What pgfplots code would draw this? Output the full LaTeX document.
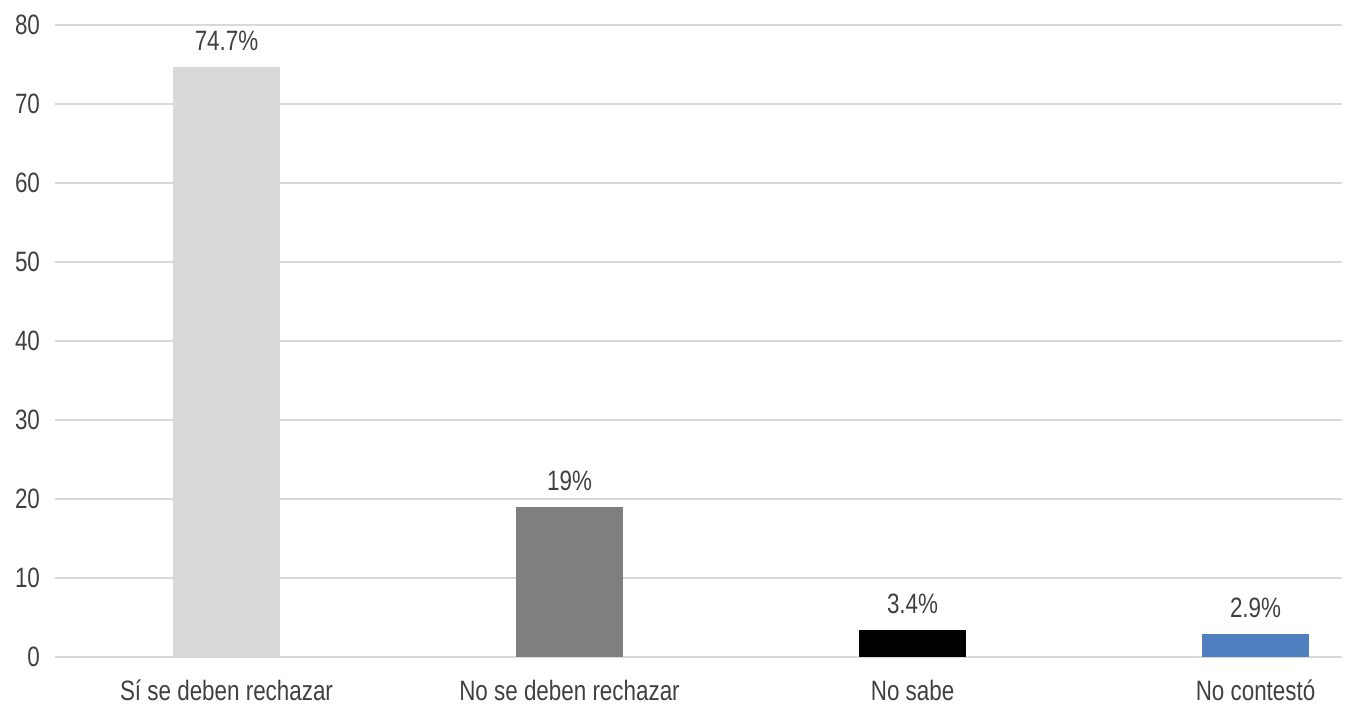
\documentclass[border=0pt]{standalone}
\usepackage{pgfplots}
\pgfplotsset{compat=1.18}
\usepackage{fontspec}
\setmainfont{Liberation Sans}[FakeStretch=0.8]
\definecolor{gridc}{HTML}{D9D9D9}
\definecolor{txt}{HTML}{404040}
\definecolor{c1}{HTML}{D9D9D9}
\definecolor{c2}{HTML}{7F7F7F}
\definecolor{c3}{HTML}{000000}
\definecolor{c4}{HTML}{4F7FBE}
\begin{document}
\begin{tikzpicture}
\useasboundingbox (-27.5pt,-25pt) rectangle (645.5pt,328.5pt);
\begin{axis}[
  at={(0,0)}, anchor=south west,
  scale only axis, width=643.5pt, height=316pt,
  xmin=-0.5, xmax=3.252, ymin=0, ymax=80,
  ytick={0,10,...,80},
  xtick={0,1,2,3},
  xticklabels={Sí se deben rechazar, No se deben rechazar, No sabe, No contestó},
  axis line style={draw=none},
  major tick length=0pt,
  ymajorgrids, grid style={gridc, line width=1pt},
  ybar, bar width=53.5pt, bar shift=0pt,
  /pgf/number format/assume math mode=true,
  tick label style={font=\fontsize{14}{16}\selectfont, text=txt},
  yticklabel style={xshift=-4pt},
  xticklabel style={yshift=-8pt},
  nodes near coords, point meta=explicit symbolic,
  every node near coord/.append style={font=\fontsize{14}{16}\selectfont, text=txt, yshift=4.5pt},
  clip=false,
]
\addplot[fill=c1, draw=none] coordinates {(0,74.7) [74.7\%]};
\addplot[fill=c2, draw=none] coordinates {(1,19) [19\%]};
\addplot[fill=c3, draw=none] coordinates {(2,3.4) [3.4\%]};
\addplot[fill=c4, draw=none] coordinates {(3,2.9) [2.9\%]};
\end{axis}
\end{tikzpicture}
\end{document}
